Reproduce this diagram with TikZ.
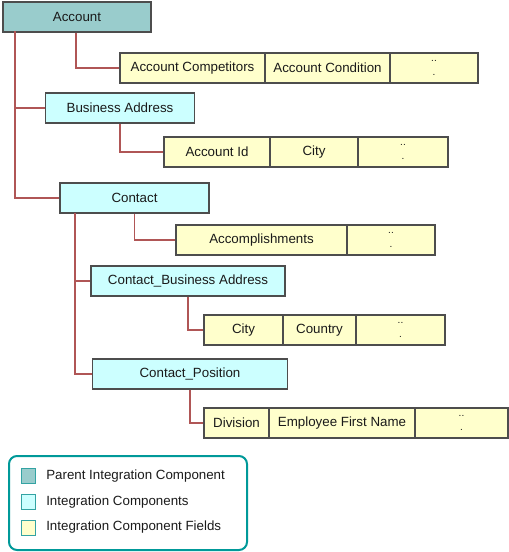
\documentclass[tikz,border=0pt]{standalone}
\usepackage{fontspec}
\setmainfont{Liberation Sans}
\definecolor{parentfill}{HTML}{99CCCC}
\definecolor{compfill}{HTML}{CCFFFF}
\definecolor{fieldfill}{HTML}{FFFFCC}
\definecolor{boxline}{HTML}{4D4D4D}
\definecolor{linkred}{HTML}{B05656}
\definecolor{legendteal}{HTML}{009999}
\definecolor{keyline}{HTML}{33A3A3}
\definecolor{textgray}{HTML}{1A1A1A}
\tikzset{
    every node/.style = {font=\fontsize{10}{12}\selectfont, text=textgray},
    box/.style = {draw=boxline, line width=0.9pt, minimum height=22.5pt, inner sep=0pt},
    parent/.style = {box, fill=parentfill},
    comp/.style = {box, fill=compfill},
    field/.style = {box, fill=fieldfill},
    more/.style = {field, align=center, font=\fontsize{7.5}{8}\selectfont},
    link/.style = {draw=linkred, line width=0.8pt},
    key/.style = {draw=keyline, line width=0.75pt, minimum width=10.5pt, minimum height=11.25pt, inner sep=0pt},
    keytext/.style = {anchor=west, inner sep=0pt}
}

\begin{document}
\begin{tikzpicture}[x=0.75pt, y=-0.75pt]
    \useasboundingbox (0,0) rectangle (509,552);

    % components
    \node[parent, minimum width=111pt] (acc) at (77, 17) {Account};
    \node[comp, minimum width=111.75pt] (ba) at (120, 108) {Business Address};
    \node[comp, minimum width=111.75pt] (con) at (134.5, 198) {Contact};
    \node[comp, minimum width=145.5pt] (cba) at (188, 281) {Contact\_Business Address};
    \node[comp, minimum width=146.25pt] (cpos) at (190, 374) {Contact\_Position};

    % fields
    \node[field, minimum width=108.75pt] (accComp) at (192.5, 68) {Account Competitors};
    \node[field, minimum width=93.75pt] (accCond) at (327.5, 68) {Account Condition};
    \node[more, minimum width=66pt] (accMore) at (434, 68) {..\\[2pt].};

    \node[field, minimum width=79.5pt] (baId) at (217, 152) {Account Id};
    \node[field, minimum width=66pt] (baCity) at (314, 152) {City};
    \node[more, minimum width=67.5pt] (baMore) at (403, 152) {..\\[2pt].};

    \node[field, minimum width=128.25pt] (conAcc) at (261.5, 240) {Accomplishments};
    \node[more, minimum width=66pt] (conMore) at (391, 240) {..\\[2pt].};

    \node[field, minimum width=59.25pt] (cbaCity) at (243.5, 330) {City};
    \node[field, minimum width=54.75pt] (cbaCountry) at (319.5, 330) {Country};
    \node[more, minimum width=66.75pt] (cbaMore) at (400.5, 330) {..\\[2pt].};

    \node[field, minimum width=48.75pt] (cposDiv) at (236.5, 423) {Division};
    \node[field, minimum width=109.5pt] (cposName) at (342, 423) {Employee First Name};
    \node[more, minimum width=69.75pt] (cposMore) at (461.5, 423) {..\\[2pt].};

    % trunks
    \coordinate (accTrunk) at (15, 31);
    \coordinate (conTrunk) at (75, 213);

    \draw[link] (accTrunk) |- (ba.west);
    \draw[link] (accTrunk) |- (con.west);
    \draw[link] (conTrunk) |- (cba.west);
    \draw[link] (conTrunk) |- (cpos.west);

    \draw[link] ([xshift=-0.75pt]acc.south) |- (accComp.west);
    \draw[link] (ba.south) |- (baId.west);
    \draw[link] (con.south) |- (conAcc.west);
    \draw[link] (cba.south) |- (cbaCity.west);
    \draw[link] (cpos.south) |- (cposDiv.west);

    % legend
    \draw[legendteal, line width=1.5pt, rounded corners=6pt] (9, 456) rectangle (247, 550);
    \node[key, fill=parentfill] (keyParent) at (28, 476) {};
    \node[key, fill=compfill] (keyComp) at (28, 502) {};
    \node[key, fill=fieldfill] (keyField) at (28, 528) {};
    \node[keytext] (keyParentText) at (46, 476) {Parent Integration Component};
    \node[keytext] (keyCompText) at (46, 502) {Integration Components};
    \node[keytext] (keyFieldText) at (46, 527) {Integration Component Fields};
\end{tikzpicture}
\end{document}
